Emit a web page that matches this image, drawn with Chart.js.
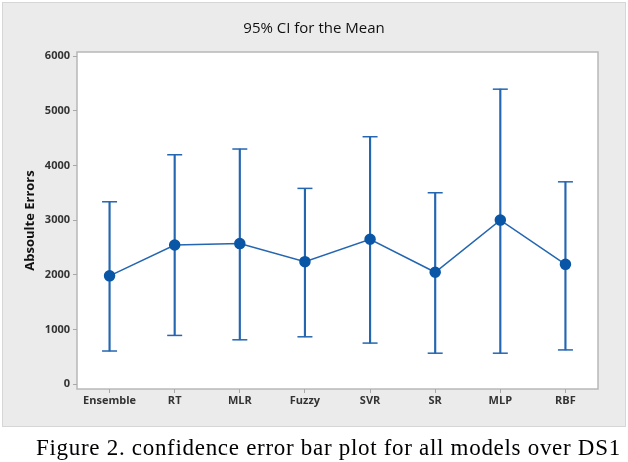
<!DOCTYPE html>
<html>
<head>
<meta charset="utf-8">
<script src="https://cdn.jsdelivr.net/npm/chart.js@4"></script>
<style>
  body { margin: 0; background: #fff; }
  #wrap { position: relative; width: 628px; height: 462px; }
  #caption {
    position: absolute; left: 36px; top: 437px;
    font-family: "Liberation Serif", "Times New Roman", serif;
    font-size: 23px; line-height: 22px; letter-spacing: 0.7px; color: #000; white-space: nowrap;
  }
</style>
</head>
<body>
<div id="wrap">
  <canvas id="ciChart" width="628" height="462"></canvas>
  <div id="caption">Figure 2. confidence error bar plot for all models over DS1</div>
</div>
<script>
// Data
const categories = ['Ensemble', 'RT', 'MLR', 'Fuzzy', 'SVR', 'SR', 'MLP', 'RBF'];
const means = [1980, 2545, 2570, 2240, 2650, 2045, 3000, 2190];
const upper = [3335, 4195, 4300, 3580, 4525, 3500, 5395, 3700];
const lower = [605, 890, 810, 865, 750, 565, 565, 625];
const yTicks = [0, 1000, 2000, 3000, 4000, 5000, 6000];

const blue = '#0a56a6';
const whisker = '#2466b0';

// Grey panel behind the chart and white plot box with a frame
const panelPlugin = {
  id: 'panel',
  beforeDraw(chart) {
    const { ctx, chartArea: a } = chart;
    ctx.save();
    ctx.fillStyle = '#ffffff';
    ctx.fillRect(0, 0, chart.width, chart.height);
    ctx.fillStyle = '#ebebeb';
    ctx.fillRect(2, 2, 624, 425);
    ctx.strokeStyle = '#d6d6d6';
    ctx.lineWidth = 1;
    ctx.strokeRect(2.5, 2.5, 623, 424);
    ctx.fillStyle = '#ffffff';
    ctx.fillRect(a.left, a.top, a.right - a.left, a.bottom - a.top);
    ctx.strokeStyle = '#b8b8b8';
    ctx.lineWidth = 1.5;
    ctx.strokeRect(a.left, a.top, a.right - a.left, a.bottom - a.top);
    ctx.restore();
  }
};

const capStyle = {
  type: 'line',
  showLine: false,
  pointStyle: 'line',
  pointRadius: 7.5,
  pointHoverRadius: 7.5,
  pointBorderWidth: 1.5,
  pointBorderColor: whisker,
  borderColor: whisker,
  order: 2
};

const tickFont = { family: 'Open Sans', size: 11, weight: 'bold' };

new Chart(document.getElementById('ciChart'), {
  type: 'bar',
  data: {
    labels: categories,
    datasets: [
      {
        type: 'line',
        data: means,
        borderColor: whisker,
        borderWidth: 1.5,
        pointRadius: 5,
        pointHoverRadius: 5,
        pointBackgroundColor: blue,
        pointBorderColor: blue,
        tension: 0,
        order: 0
      },
      {
        type: 'bar',
        data: categories.map((c, i) => [lower[i], upper[i]]),
        backgroundColor: whisker,
        barThickness: 1.5,
        order: 3
      },
      { ...capStyle, data: upper },
      { ...capStyle, data: lower }
    ]
  },
  options: {
    responsive: false,
    animation: false,
    layout: { padding: { top: 11, left: 30, right: 30, bottom: 43 } },
    plugins: {
      legend: { display: false },
      tooltip: { enabled: false },
      title: {
        display: true,
        text: '95% CI for the Mean',
        color: '#111',
        font: { family: 'Open Sans', size: 15, weight: 'normal' },
        padding: { top: 9, bottom: 14 }
      }
    },
    scales: {
      x: {
        offset: true,
        border: { display: false },
        grid: { offset: false, drawOnChartArea: false, color: '#a8a8a8', tickLength: 4 },
        ticks: { color: '#333', padding: 1, font: tickFont },
        afterFit(axis) { axis.height = 30; }
      },
      y: {
        min: -90,
        max: 6075,
        border: { display: false },
        grid: { drawOnChartArea: false, color: '#a8a8a8', tickLength: 4 },
        afterBuildTicks(axis) { axis.ticks = yTicks.map(v => ({ value: v })); },
        ticks: {
          color: '#333',
          padding: 3,
          font: tickFont,
          callback: v => String(v)
        },
        title: {
          display: true,
          text: 'Absoulte Errors',
          color: '#111',
          font: { family: 'Open Sans', size: 13, weight: 'bold' },
          padding: { top: -8, bottom: 0 }
        },
        afterFit(axis) { axis.width = 47; }
      }
    }
  },
  plugins: [panelPlugin]
});
</script>
</body>
</html>
